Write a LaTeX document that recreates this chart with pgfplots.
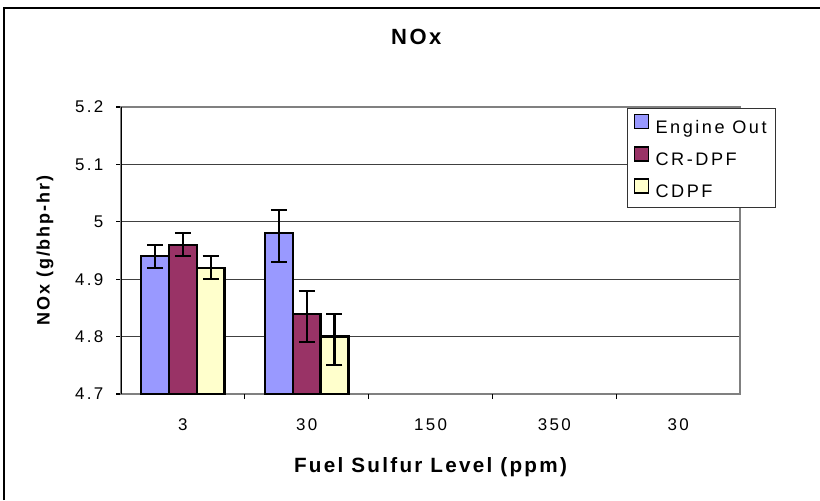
\documentclass[border=0pt]{standalone}
\usepackage{pgfplots}
\pgfplotsset{compat=1.18}
\usepackage{fontspec}
\setmainfont{Liberation Sans}
\newfontfamily\lsf[LetterSpace=14]{Liberation Sans}
\newfontfamily\lsl[LetterSpace=11]{Liberation Sans}
\definecolor{engout}{HTML}{9999FF}
\definecolor{crdpf}{HTML}{993366}
\definecolor{cdpf}{HTML}{FFFFCC}
\begin{document}
\begin{tikzpicture}
\useasboundingbox (0,0) rectangle (615pt,375pt);
\fill[white] (0,0) rectangle (615pt,375pt);
\draw[black, line width=1.1pt] (3pt,0) -- (3pt,369pt) -- (615pt,369pt);
\begin{axis}[
  at={(90.75pt,79.5pt)}, anchor=south west,
  scale only axis, width=464.25pt, height=215.25pt,
  xmin=-0.5, xmax=4.5, ymin=4.7, ymax=5.2,
  ytick={4.7,4.8,...,5.2},
  xtick={0,1,2,3,4},
  xticklabels={3,30,150,350,30},
  /pgf/number format/assume math mode=true,
  /pgf/number format/fixed,
  tick align=outside, xtick pos=bottom, ytick pos=left,
  major tick length=3.75pt,
  xtick style={draw=none},
  extra x ticks={0.5,1.5,2.5,3.5},
  extra x tick labels={},
  extra x tick style={xtick style={draw=black, line width=0.8pt}, grid=none},
  ytick style={draw=black, line width=0.8pt},
  ymajorgrids, grid style={black!75, line width=0.8pt},
  axis line style={draw=gray, line width=1pt},
  tick label style={font=\lsf\fontsize{12.7}{14}\selectfont},
  yticklabel style={xshift=-6pt},
  xticklabel style={yshift=-11.5pt},
  title={\lsl\bfseries\fontsize{16.5}{19}\selectfont NOx},
  title style={at={(axis description cs:0.477,1.216)}, anchor=center},
  xlabel={\lsl\bfseries\fontsize{15.5}{18}\selectfont Fuel Sulfur Level (ppm)},
  xlabel style={at={(axis description cs:0.5,-0.2544)}, anchor=center},
  ylabel={\lsl\bfseries\fontsize{13.5}{16}\selectfont NOx (g/bhp-hr)},
  ylabel style={at={(axis description cs:-0.1228,0.5)}, anchor=center},
  ybar, bar width=0.2245, bar shift=0pt,
  every axis plot/.append style={draw=black, line width=1.7pt},
  error bars/error bar style={black, line width=1.7pt},
  error bars/error mark options={rotate=90, mark size=6pt, black, line width=1.7pt},
  legend image code/.code={\draw[#1, line width=1.3pt] (0pt,-0.5pt) rectangle (10.5pt,10pt); \path (13pt,0);},
  legend style={at={(0.8175,0.9965)}, anchor=north west, draw=black!80, line width=0.8pt,
    font=\lsf\fontsize{13.6}{15}\selectfont, row sep=6pt, inner xsep=4.5pt, inner ysep=3.8pt,
    cells={anchor=west}},
]
\addplot[fill=engout, error bars/.cd, y dir=both, y explicit] coordinates {
  (-0.2245,4.94) += (0,0.02) -= (0,0.02)
  (0.7755,4.98) += (0,0.04) -= (0,0.05)
};
\addlegendentry{Engine Out}
\addplot[fill=crdpf, error bars/.cd, y dir=both, y explicit] coordinates {
  (0,4.96) += (0,0.02) -= (0,0.02)
  (1,4.84) += (0,0.04) -= (0,0.05)
};
\addlegendentry{CR-DPF}
\addplot[fill=cdpf, error bars/.cd, y dir=both, y explicit] coordinates {
  (0.2245,4.92) += (0,0.02) -= (0,0.02)
  (1.2245,4.80) += (0,0.04) -= (0,0.05)
};
\addlegendentry{CDPF}
\draw[black, line width=1pt] (rel axis cs:0,0) -- (rel axis cs:0,1);
\end{axis}
\end{tikzpicture}
\end{document}
